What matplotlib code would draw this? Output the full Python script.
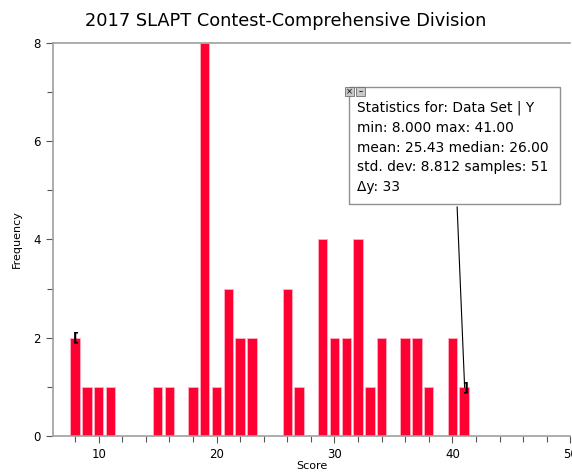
import numpy as np
import matplotlib.pyplot as plt
from matplotlib.patches import Rectangle

# histogram counts
scores = [8, 9, 10, 11, 15, 16, 18, 19, 20, 21, 22, 23, 26, 27,
          29, 30, 31, 32, 33, 34, 36, 37, 38, 40, 41]
counts = [2, 1, 1, 1, 1, 1, 1, 8, 1, 3, 2, 2, 3, 1,
          4, 2, 2, 4, 1, 2, 2, 2, 1, 2, 1]
stats_lines = ["Statistics for: Data Set | Y",
               "min: 8.000 max: 41.00",
               "mean: 25.43 median: 26.00",
               "std. dev: 8.812 samples: 51",
               "\u0394y: 33"]

plt.rcParams['font.family'] = ['DejaVu Sans']
fig = plt.figure(figsize=(5.72, 4.72), dpi=100)
ax = fig.add_axes([0.092, 0.0763, 0.905, 0.8332])

ax.bar(scores, counts, width=0.8, color='#ff0033', edgecolor='#ffb0c0', linewidth=0.6)
ax.set_xlim(6.1, 50)
ax.set_ylim(0, 8)

ax.set_xticks([10, 20, 30, 40, 50])
ax.set_xticks(np.arange(8, 50, 2), minor=True)
ax.set_yticks([0, 2, 4, 6, 8])
ax.set_yticks([1, 3, 5, 7], minor=True)
ax.tick_params(which='both', direction='out', color='#555555', labelsize=8.5, width=0.8)
ax.tick_params(which='major', length=5)
ax.tick_params(which='minor', length=4)
for s in ['left', 'bottom', 'top']:
    ax.spines[s].set_color('#a0a0a0')
    ax.spines[s].set_linewidth(1.2)
ax.spines['right'].set_visible(False)

ax.set_xlabel('Score', fontsize=8, labelpad=0)
ax.set_ylabel('Frequency', fontsize=8, labelpad=8)
fig.text(0.5, 0.955, '2017 SLAPT Contest-Comprehensive Division', ha='center', va='center', fontsize=12.8)

# range markers
ax.text(8.1, 2.0, '[', fontsize=9, fontweight='bold', ha='center', va='center')
ax.text(41.1, 0.97, ']', fontsize=9, fontweight='bold', ha='center', va='center')

# stats box
bx0, by0, bx1, by1 = 349 / 572, 1 - 204 / 472, 560 / 572, 1 - 87 / 472
fig.patches.append(Rectangle((bx0, by0), bx1 - bx0, by1 - by0, transform=fig.transFigure,
                             facecolor='white', edgecolor='#909090', linewidth=1.0, zorder=5))
for i, line in enumerate(stats_lines):
    fig.text(357 / 572, 1 - (108 + i * 19.8) / 472, line, fontsize=9.9, va='center', ha='left', zorder=6)
for k, ch in enumerate(['\u00d7', '\u2013']):
    fig.patches.append(Rectangle(((345 + k * 11) / 572, 1 - 96 / 472), 9 / 572, 9 / 472,
                                 transform=fig.transFigure, facecolor='#c8c8c8',
                                 edgecolor='#707070', linewidth=0.6, zorder=7))
    fig.text((349.5 + k * 11) / 572, 1 - 91.5 / 472, ch, fontsize=6, ha='center', va='center', zorder=8)

# leader line from box to the max bar
ax.annotate('', xy=(41.05, 0.93), xycoords='data',
            xytext=(457 / 572, by0), textcoords='figure fraction',
            arrowprops=dict(arrowstyle='-', color='black', lw=0.8))

fig.savefig('out.png', dpi=100)
